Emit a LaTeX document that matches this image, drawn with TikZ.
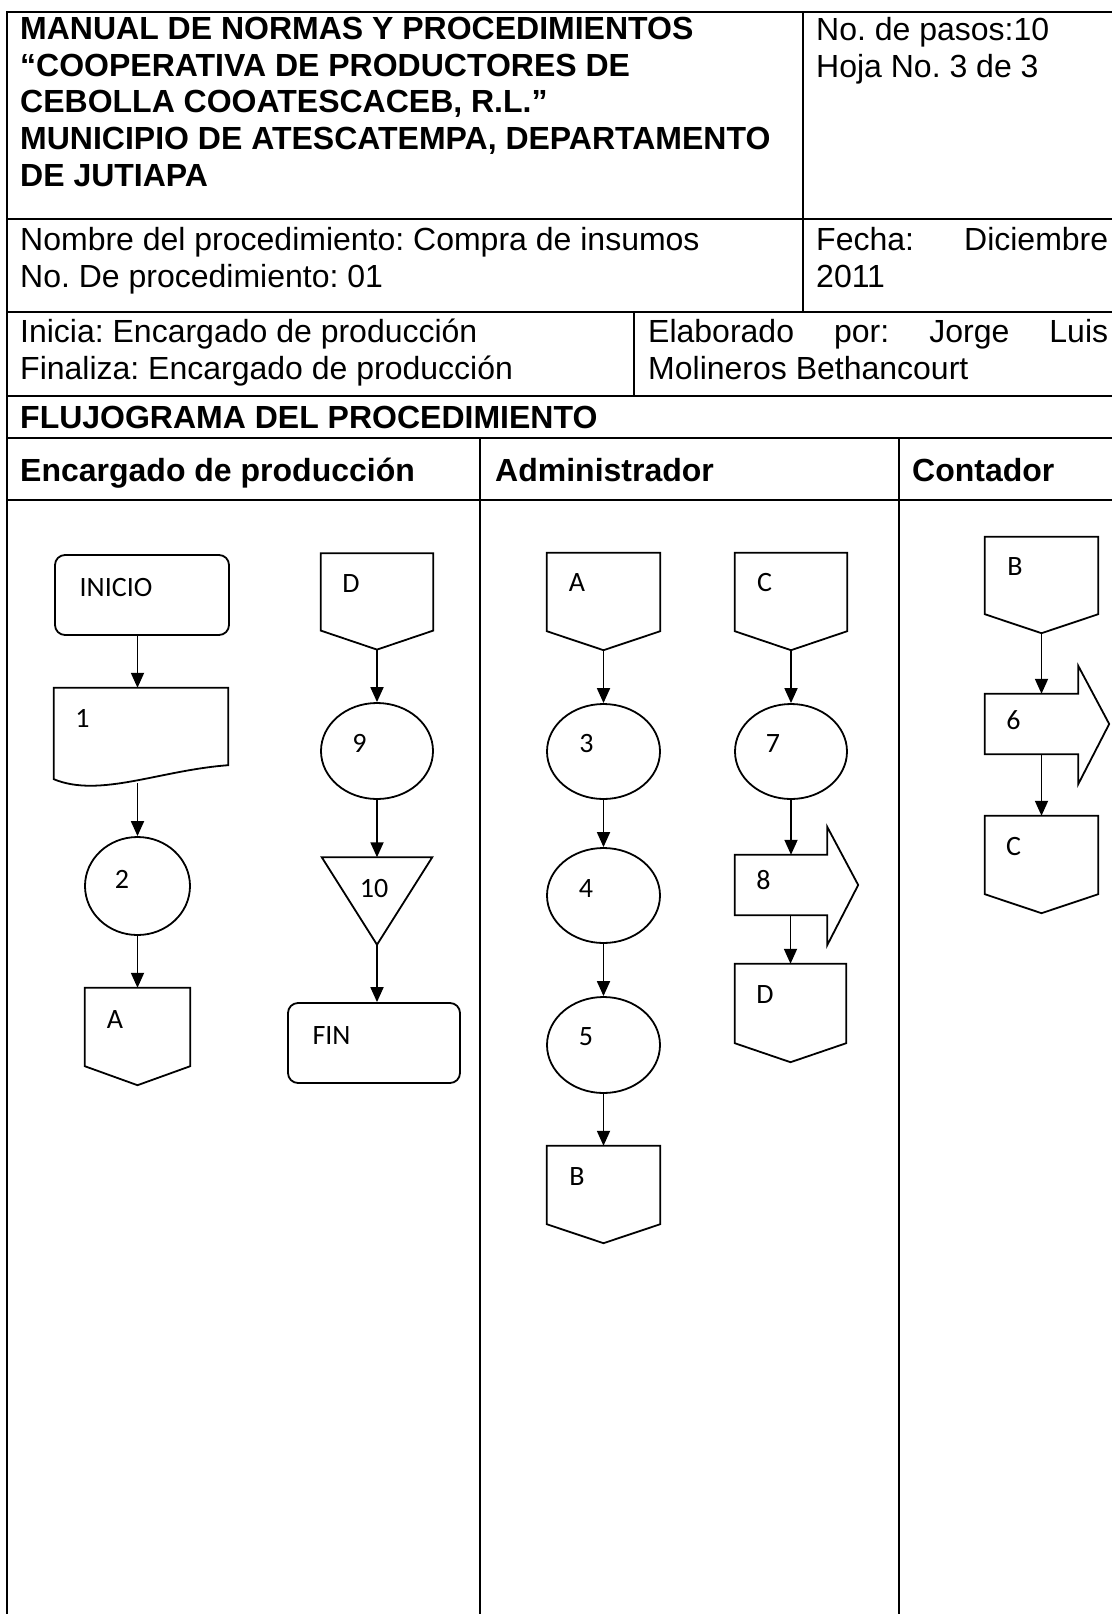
\documentclass[tikz,border=0pt]{standalone}
\usepackage{fontspec}
\setmainfont{Liberation Sans}
\newfontfamily\calibri{Carlito}
\usetikzlibrary{shapes.geometric,arrows.meta}
\frenchspacing

\tikzset{
  tabla/.style={line width=2pt},
  linea/.style={line width=1.8pt},
  flecha/.style={linea, -{Triangle[length=15pt,width=13pt]}},
  encab/.style={anchor=north west, inner sep=0pt, align=left,
    font=\fontsize{32pt}{36.7pt}\selectfont},
  encabneg/.style={encab, font=\bfseries\fontsize{32pt}{36.7pt}\selectfont},
  etiq/.style={inner sep=0pt, font=\calibri\fontsize{28pt}{30pt}\selectfont},
  terminal/.style={draw, linea, rounded corners=10pt, inner sep=0pt,
    minimum width=174pt, minimum height=80pt},
  proceso/.style={draw, linea, ellipse, inner sep=0pt,
    minimum width=113pt, minimum height=95pt},
  caja/.style={inner sep=0pt, minimum width=113pt, minimum height=97pt},
}

% conector de pagina: caja con punta hacia abajo
\newcommand\conector[1]{%
  \draw[linea] (#1.north west) -- ([yshift=19pt]#1.south west) -- (#1.south)
    -- ([yshift=19pt]#1.south east) -- (#1.north east) -- cycle;}
% flecha de traslado
\newcommand\traslado[1]{%
  \draw[linea] (#1.north west) -- (#1.north east) -- ([yshift=28pt]#1.north east)
    -- ([xshift=31pt]#1.east) -- ([yshift=-30pt]#1.south east)
    -- (#1.south east) -- (#1.south west) -- cycle;}

\begin{document}
\begin{tikzpicture}[x=1pt,y=-1pt]
  \useasboundingbox (0,0) rectangle (1111,1614);

  % tabla
  \draw[tabla] (1112,12) -- (7,12) -- (7,1615);
  \foreach \y in {219,312,396,438,500}
    \draw[tabla] (7,\y) -- (1112,\y);
  \draw[tabla] (803,12) -- (803,312);
  \draw[tabla] (634,312) -- (634,396);
  \draw[tabla] (480,438) -- (480,1615);
  \draw[tabla] (899,438) -- (899,1615);

  \node[encabneg] (titulo) at (20,17) {MANUAL DE NORMAS Y PROCEDIMIENTOS\\
    “COOPERATIVA DE PRODUCTORES DE\\CEBOLLA COOATESCACEB, R.L.”\\
    MUNICIPIO DE ATESCATEMPA, DEPARTAMENTO\\DE JUTIAPA};
  \node[encab] (pasos) at (816,17) {No. de pasos:10\\Hoja No. 3 de 3};
  \node[encab] (nombre) at (20,227) {Nombre del procedimiento: Compra de insumos\\
    No. De procedimiento: 01};
  \node[encab] (fecha) at (816,227) {\makebox[292pt][s]{Fecha: Diciembre}\\2011};
  \node[encab] (inicia) at (20,319) {Inicia: Encargado de producción\\
    Finaliza: Encargado de producción};
  \node[encab] (autor) at (648,319) {\makebox[460pt][s]{Elaborado por: Jorge Luis}\\
    Molineros Bethancourt};
  \node[encabneg] (flujo) at (20,405.5) {FLUJOGRAMA DEL PROCEDIMIENTO};
  \node[encabneg] (carril1) at (20,458) {Encargado de producción};
  \node[encabneg] (carril2) at (495,458) {Administrador};
  \node[encabneg] (carril3) at (912,458) {Contador};

  %% Encargado de produccion
  \node[terminal] (ini) at (142,595) {};
  \node[etiq] (t-ini) at (116,587.7) {INICIO};

  \node[inner sep=0pt, minimum width=174pt, minimum height=95pt] (doc1) at (141,735.5) {};
  \draw[linea] (doc1.north west) -- ([yshift=4pt]doc1.south west)
    .. controls ([xshift=46pt,yshift=-15pt]doc1.south west)
    and ([xshift=106pt,yshift=13pt]doc1.south west) .. ([yshift=18pt]doc1.south east)
    -- (doc1.north east) -- cycle;
  \node[etiq] (t-1) at (82.5,718.7) {1};

  \node[proceso, minimum width=105pt, minimum height=98pt] (e2) at (137.5,886) {};
  \node[etiq] (t-2) at (122,879) {2};

  \node[caja, minimum width=105pt] (conA1) at (137.5,1036.5) {};
  \conector{conA1}
  \node[etiq] (t-A1) at (115,1020) {A};

  \node[caja, minimum width=112pt, minimum height=96pt] (conD1) at (377,601.4) {};
  \conector{conD1}
  \node[etiq] (t-D1) at (351,583.6) {D};

  \node[proceso, minimum width=112pt, minimum height=96pt] (e9) at (377,751) {};
  \node[etiq] (t-9) at (359.5,743.8) {9};

  \node[inner sep=0pt, minimum width=110pt, minimum height=87pt] (tri10) at (377,901) {};
  \draw[linea] (tri10.north west) -- (tri10.north east) -- (tri10.south) -- cycle;
  \node[etiq] (t-10) at (374,888) {10};

  \node[terminal, minimum width=172pt] (fin) at (374,1043) {};
  \node[etiq] (t-fin) at (331.5,1036) {FIN};

  \draw[flecha] (ini.south -| e2) -- (doc1.north -| e2);
  \draw[flecha] (doc1.south -| e2) -- (e2.north);
  \draw[flecha] (e2.south) -- (conA1.north);
  \draw[flecha] (conD1.south) -- (e9.north);
  \draw[flecha] (e9.south) -- (tri10.north);
  \draw[flecha] (tri10.south) -- (fin.north -| tri10);

  %% Administrador
  \node[caja] (conA2) at (603.5,601.5) {};
  \conector{conA2}
  \node[etiq] (t-A2) at (577,583) {A};

  \node[proceso] (e3) at (603.5,751.5) {};
  \node[etiq] (t-3) at (586.5,744) {3};
  \node[proceso] (e4) at (603.5,895.5) {};
  \node[etiq] (t-4) at (586,888) {4};
  \node[proceso, minimum height=96pt] (e5) at (603.5,1045) {};
  \node[etiq] (t-5) at (586,1037) {5};

  \node[caja] (conB2) at (603.5,1194.5) {};
  \conector{conB2}
  \node[etiq] (t-B2) at (577,1177) {B};

  \node[caja, minimum width=112pt] (conC2) at (791,601.5) {};
  \conector{conC2}
  \node[etiq] (t-C2) at (764.5,583) {C};

  \node[proceso, minimum width=112pt] (e7) at (791,751.5) {};
  \node[etiq] (t-7) at (773,744) {7};

  \node[inner sep=0pt, minimum width=92pt, minimum height=60pt] (s8) at (781,885) {};
  \traslado{s8}
  \node[etiq] (t-8) at (763.5,880) {8};

  \node[caja, minimum width=111pt, minimum height=98pt] (conD2) at (790.5,1013) {};
  \conector{conD2}
  \node[etiq] (t-D2) at (765,995) {D};

  \draw[flecha] (conA2.south) -- (e3.north);
  \draw[flecha] (e3.south) -- (e4.north);
  \draw[flecha] (e4.south) -- (e5.north);
  \draw[flecha] (e5.south) -- (conB2.north);
  \draw[flecha] (conC2.south) -- (e7.north);
  \draw[flecha] (e7.south) -- (e7.south |- s8.north);
  \draw[flecha] (s8.south -| conD2) -- (conD2.north);

  %% Contador
  \node[caja, minimum height=96pt] (conB3) at (1041.5,585) {};
  \conector{conB3}
  \node[etiq] (t-B3) at (1015,567) {B};

  \node[inner sep=0pt, minimum width=93pt, minimum height=60pt] (s6) at (1031.5,724) {};
  \traslado{s6}
  \node[etiq] (t-6) at (1013.5,720) {6};

  \node[caja] (conC3) at (1041.5,864.5) {};
  \conector{conC3}
  \node[etiq] (t-C3) at (1013.5,846) {C};

  \draw[flecha] (conB3.south) -- (conB3.south |- s6.north);
  \draw[flecha] (s6.south -| conC3) -- (conC3.north);
\end{tikzpicture}
\end{document}
